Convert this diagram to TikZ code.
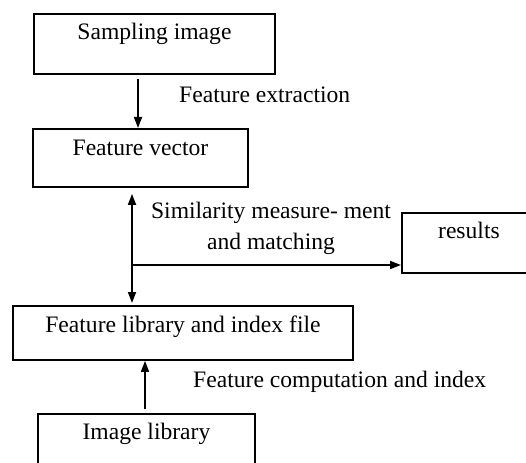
\documentclass[tikz,border=0pt]{standalone}
\usepackage{fontspec}
\setmainfont{Liberation Serif}
\usetikzlibrary{arrows.meta}

\begin{document}
\begin{tikzpicture}[x=1pt,y=-1pt,
  font=\fontsize{23.6}{31}\selectfont,
  box/.style={draw, line width=1.9pt, inner sep=0pt, anchor=north west},
  tip/.style={Triangle[length=11pt,width=8pt]},
  arr/.style={line width=1.7pt, -{Triangle[length=11pt,width=8pt]}},
  darr/.style={line width=1.7pt, {Triangle[length=11pt,width=8pt]}-{Triangle[length=11pt,width=8pt]}},
  lbl/.style={inner sep=0pt, anchor=base west}]
\useasboundingbox (0,0) rectangle (526,462);
\clip (0,0) rectangle (526,462);

% boxes: text height/depth place the label near the top edge
\node[box, minimum width=241pt, text height=26pt, text depth=34pt] (samp) at (33,13) {Sampling image};
\node[box, minimum width=215pt, text height=27pt, text depth=31pt] (fv) at (32,128) {Feature vector};
\node[box, minimum width=134pt, text height=26pt, text depth=34pt] (res) at (401,212) {results};
\node[box, minimum width=340pt, text height=27pt, text depth=27pt] (fl) at (12,305) {Feature library and index file};
\node[box, minimum width=217pt, text height=26pt, text depth=36pt] (il) at (37,413) {Image library};

% connector columns
\coordinate (c1) at (138,0);
\coordinate (c2) at (132,0);
\coordinate (c3) at (145,0);
\coordinate (hj) at (132,265);

\draw[arr, shorten <=4pt] (samp.south -| c1) -- (fv.north -| c1);
\draw[darr, shorten <=6pt, shorten >=2pt] (fv.south -| c2) -- (fl.north -| c2);
\draw[arr] (hj) -- (hj -| res.west);
\draw[arr, shorten <=4pt] (il.north -| c3) -- (fl.south -| c3);

% connector labels
\node[lbl] (t1) at (179,103) {Feature extraction};
\node[inner sep=0pt, align=center, anchor=base] (t2) at (271,249) {Similarity measure- ment\\and matching};
\node[lbl] (t3) at (193,387) {Feature computation and index};
\end{tikzpicture}
\end{document}
